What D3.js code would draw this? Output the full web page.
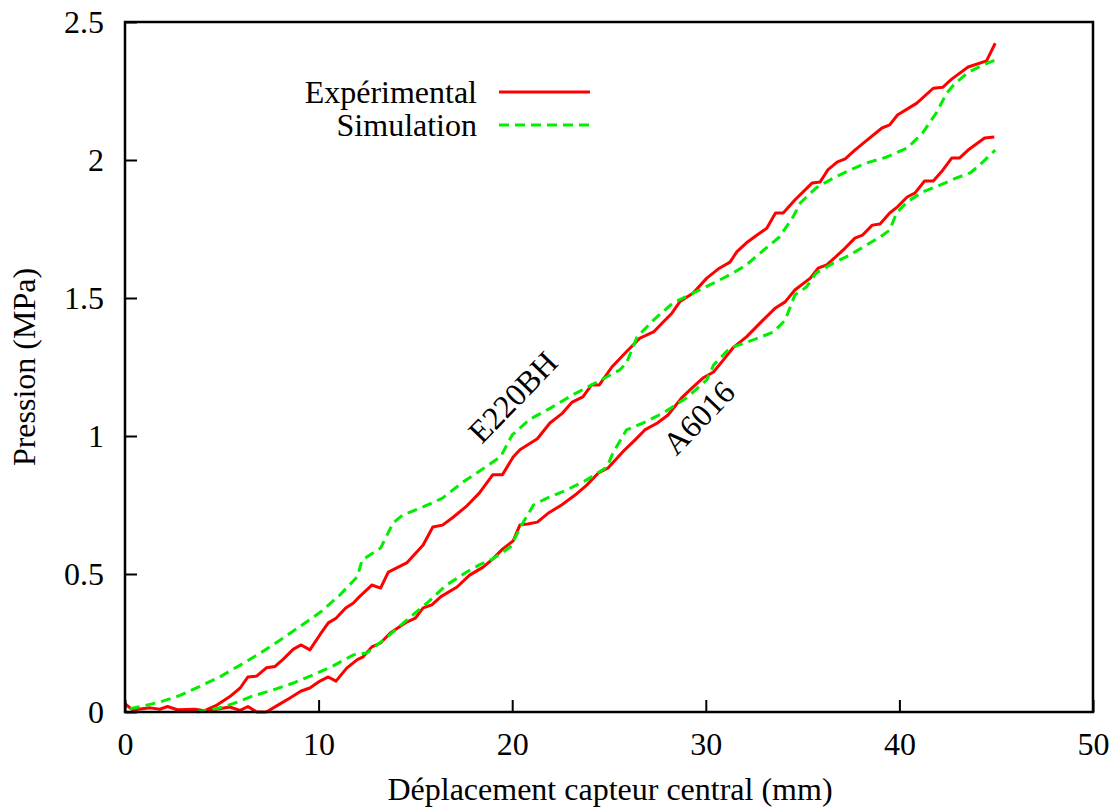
<!DOCTYPE html>
<html><head><meta charset="utf-8">
<script src="https://cdn.jsdelivr.net/npm/d3@7"></script>
<style>body{margin:0;background:#fff}svg{display:block}text{font-family:"Liberation Serif","DejaVu Serif",serif;fill:#000}</style>
</head><body><svg id="c" width="1120" height="812"></svg>
<script>
// E220BH experimental
const e220ExpX = [0,0.4,1.3,1.8,2.2,2.7,3.6,4.1,4.75,5.4,5.95,6.35,6.8,7.3,7.75,8.15,8.7,9.1,9.55,10.07,10.5,10.9,11.4,11.8,12.1,12.75,13.2,13.6,14.55,15.4,15.9,16.4,16.9,17.6,18.3,19.0,19.5,20.05,20.4,21.3,21.95,22.6,23.1,23.65,24.1,24.5,25.15,25.9,26.6,27.3,27.8,28.25,28.65,29.35,30.05,30.7,31.25,31.6,32.1,32.65,33.15,33.6,34.0,34.6,35.5,35.9,36.3,36.8,37.2,37.7,38.2,39.1,39.5,39.9,40.9,41.75,42.25,42.7,43.55,44.5,44.95];
const e220ExpY = [0.03,0.007,0.015,0.01,0.02,0.008,0.01,0.005,0.025,0.055,0.087,0.127,0.13,0.16,0.165,0.19,0.228,0.243,0.225,0.28,0.323,0.34,0.377,0.395,0.417,0.46,0.449,0.507,0.54,0.605,0.67,0.677,0.703,0.743,0.793,0.86,0.86,0.924,0.95,0.99,1.047,1.083,1.123,1.142,1.185,1.185,1.25,1.305,1.355,1.377,1.413,1.445,1.486,1.518,1.572,1.608,1.63,1.667,1.70,1.728,1.753,1.808,1.808,1.855,1.917,1.92,1.964,1.993,2.004,2.036,2.065,2.116,2.127,2.163,2.206,2.26,2.264,2.293,2.337,2.359,2.423];
// E220BH simulation
const e220SimX = [0.25,0.8,1.8,2.85,3.9,4.9,5.95,7.0,8.0,9.0,10.1,11.1,12.0,12.25,13.2,13.85,14.35,15.4,16.4,17.4,18.3,19.4,20.0,20.9,21.95,23.1,24.4,25.55,25.9,26.45,27.3,28.3,29.35,30.4,31.4,32.1,33.0,33.8,34.5,34.9,35.7,36.6,37.45,38.3,39.35,40.4,41.2,41.9,42.45,42.8,43.5,44.3,44.95];
const e220SimY = [0.012,0.02,0.036,0.06,0.094,0.127,0.17,0.214,0.26,0.308,0.362,0.424,0.49,0.551,0.594,0.685,0.714,0.743,0.775,0.83,0.872,0.925,1.004,1.06,1.10,1.148,1.196,1.239,1.264,1.359,1.42,1.482,1.518,1.554,1.59,1.62,1.674,1.721,1.793,1.846,1.899,1.935,1.964,1.989,2.011,2.043,2.098,2.17,2.243,2.272,2.315,2.344,2.362];
// A6016 experimental
const a60ExpX = [4.1,4.75,5.4,5.95,6.35,6.8,7.3,7.9,8.5,9.1,9.55,10.07,10.5,10.9,11.45,12.0,12.3,12.75,13.2,13.7,14.55,15.0,15.4,15.85,16.3,17.15,17.8,18.5,19.0,19.5,20.05,20.4,20.8,21.3,21.85,22.55,23.25,23.85,24.45,24.95,25.8,26.35,26.85,27.5,28.05,28.75,29.35,29.85,30.4,30.9,31.4,32.1,32.8,33.6,34.1,34.6,35.4,35.8,36.25,37.1,37.7,38.1,38.6,39.0,39.5,39.9,40.4,40.8,41.3,41.75,42.25,42.7,43.1,43.55,44.4,44.9];
const a60ExpY = [0.005,0.01,0.018,0.006,0.02,0.0,0.0,0.025,0.05,0.076,0.087,0.112,0.127,0.112,0.159,0.19,0.2,0.236,0.25,0.286,0.326,0.34,0.377,0.388,0.417,0.453,0.496,0.525,0.555,0.59,0.62,0.678,0.681,0.688,0.72,0.75,0.786,0.822,0.866,0.884,0.949,0.986,1.022,1.047,1.076,1.138,1.178,1.21,1.232,1.275,1.319,1.359,1.409,1.464,1.486,1.529,1.572,1.608,1.62,1.674,1.717,1.728,1.764,1.768,1.808,1.83,1.866,1.88,1.924,1.924,1.964,2.007,2.007,2.036,2.08,2.083];
// A6016 simulation
const a60SimX = [3.7,4.4,5.05,5.8,6.6,7.65,8.7,9.7,10.75,11.8,12.5,13.55,14.55,15.6,16.6,17.65,18.3,19.0,19.9,20.55,21.1,21.8,22.8,23.85,24.9,25.2,25.9,26.75,27.8,29.0,30.05,30.4,31.25,32.45,33.5,34.1,34.6,35.2,35.7,36.6,37.45,38.3,39.0,39.5,39.85,40.4,41.2,42.1,42.95,43.65,44.15,44.95];
const a60SimY = [0.0,0.007,0.018,0.036,0.058,0.08,0.105,0.134,0.167,0.207,0.214,0.272,0.333,0.395,0.46,0.507,0.533,0.555,0.598,0.685,0.75,0.775,0.804,0.841,0.888,0.938,1.022,1.047,1.083,1.138,1.203,1.257,1.319,1.348,1.377,1.42,1.511,1.54,1.59,1.627,1.656,1.692,1.721,1.746,1.808,1.848,1.884,1.909,1.935,1.953,1.982,2.036];

const xTicks = [0,10,20,30,40,50];
const yTicks = [0,0.5,1,1.5,2,2.5];
const legendLabels = ["Expérimental","Simulation"];
const curveLabels = ["E220BH","A6016"];
const xTitle = "Déplacement capteur central (mm)";
const yTitle = "Pression (MPa)";

const RED = "#ff0000", GREEN = "#00ee00";
const FONT = "Liberation Serif";
const FS = 32;
const svg = d3.select("#c");
const L = 125, R = 1093, T = 22, B = 712;
const x = d3.scaleLinear().domain([0,50]).range([L,R]);
const y = d3.scaleLinear().domain([0,2.5]).range([B,T]);

const zip = (xs, ys) => xs.map((v,i)=>[v, ys[i]]);
const line = d3.line().x(d=>x(d[0])).y(d=>y(d[1]));

const g = svg.append("g");
const series = [
  {d: zip(e220ExpX,e220ExpY), c: RED, dash: null},
  {d: zip(e220SimX,e220SimY), c: GREEN, dash: "10,6"},
  {d: zip(a60ExpX,a60ExpY), c: RED, dash: null},
  {d: zip(a60SimX,a60SimY), c: GREEN, dash: "10,6"}
];
[series[0],series[2],series[1],series[3]].forEach(s=>{
  g.append("path").attr("d", line(s.d)).attr("fill","none")
   .attr("stroke", s.c).attr("stroke-width",3).attr("stroke-linejoin","round")
   .attr("stroke-dasharray", s.dash);
});

// axes (inward ticks)
const xAxis = d3.axisBottom(x).tickValues(xTicks).tickSize(-12).tickPadding(20).tickFormat(d3.format("d"));
const yAxis = d3.axisLeft(y).tickValues(yTicks).tickSize(-12).tickPadding(21).tickFormat(d=>d===0?"0":String(d));
const gx = svg.append("g").attr("transform",`translate(0,${B})`).call(xAxis);
const gy = svg.append("g").attr("transform",`translate(${L},0)`).call(yAxis);
[gx,gy].forEach(a=>{
  a.attr("font-family",FONT).attr("font-size",FS);
  a.select(".domain").remove();
  a.selectAll(".tick line").attr("stroke","#000").attr("stroke-width",2);
  a.selectAll("text").attr("font-size",FS).attr("font-family",FONT).attr("fill","#000");
});
// frame
svg.append("rect").attr("x",L).attr("y",T).attr("width",R-L).attr("height",B-T)
  .attr("fill","none").attr("stroke","#000").attr("stroke-width",2.5);

// titles
svg.append("text").attr("x",(L+R)/2 + 1).attr("y",800).attr("text-anchor","middle").attr("font-size",FS).text(xTitle);
svg.append("text").attr("transform",`translate(35,${367}) rotate(-90)`).attr("text-anchor","middle").attr("font-size",FS).text(yTitle);

// legend
legendLabels.forEach((t,i)=>{
  const ly = 92 + i*33;
  svg.append("text").attr("x",477).attr("y",ly).attr("dy","0.33em").attr("text-anchor","end").attr("font-size",FS).text(t);
  svg.append("line").attr("x1",499).attr("x2",590).attr("y1",ly).attr("y2",ly)
    .attr("stroke", i===0?RED:GREEN).attr("stroke-width",3).attr("stroke-dasharray", i===0?null:"10,6");
});

// curve labels
svg.append("text").attr("transform",`translate(${x(20.05)},${y(1.14)}) rotate(-46)`).attr("text-anchor","middle").attr("dy","0.33em").attr("font-size",FS).text(curveLabels[0]);
svg.append("text").attr("transform",`translate(${x(29.65)},${y(1.065)}) rotate(-46)`).attr("text-anchor","middle").attr("dy","0.33em").attr("font-size",FS).text(curveLabels[1]);
</script></body></html>
